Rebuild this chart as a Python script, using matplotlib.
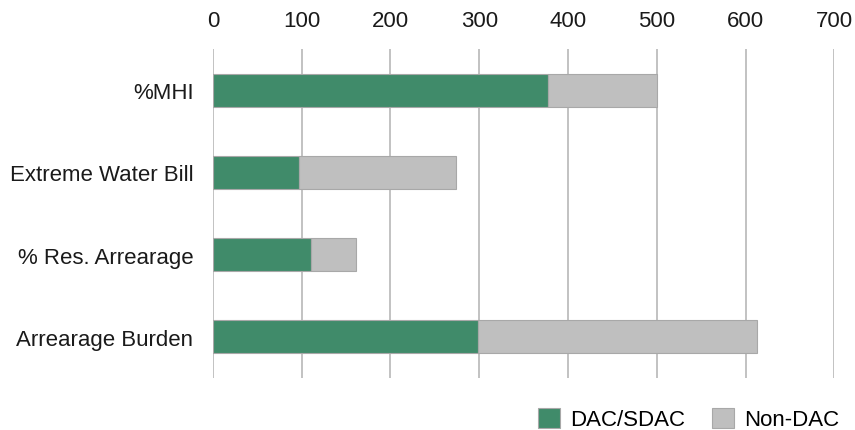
import numpy as np
import matplotlib.pyplot as plt

plt.rcParams['font.family'] = ['Liberation Sans', 'DejaVu Sans']

categories = ['%MHI', 'Extreme Water Bill', '% Res. Arrearage', 'Arrearage Burden']
dac = [377, 97, 111, 299]
non_dac = [123, 177, 50, 314]

green = '#408b6a'
grey = '#bfbfbf'

fig = plt.figure(figsize=(8.55, 4.31), dpi=100)
ax = fig.add_axes([0.249, 0.121, 0.727, 0.763])

y = np.arange(len(categories))
ax.barh(y, dac, height=0.4, color=green, edgecolor='#a8a8a8', linewidth=0.8,
        label='DAC/SDAC', zorder=3)
ax.barh(y, non_dac, left=dac, height=0.4, color=grey, edgecolor='#a8a8a8',
        linewidth=0.8, label='Non-DAC', zorder=3)

ax.set_xlim(0, 700)
ax.set_ylim(len(categories) - 0.5, -0.5)
ax.set_xticks(np.arange(0, 701, 100))
ax.set_yticks(y)
ax.set_yticklabels(categories)
ax.xaxis.tick_top()
ax.tick_params(axis='both', length=0, labelsize=16, colors='#1a1a1a')
ax.tick_params(axis='x', pad=13)
ax.tick_params(axis='y', pad=14)
ax.grid(axis='x', color='#b8b8b8', linewidth=1.2, zorder=0)
for s in ax.spines.values():
    s.set_visible(False)

ax.legend(loc='lower right', bbox_to_anchor=(1.04, -0.22), ncol=2, frameon=False,
          fontsize=16, handlelength=1.0, handleheight=1.0, columnspacing=1.2,
          handletextpad=0.45)

fig.savefig('out.png', dpi=100)
